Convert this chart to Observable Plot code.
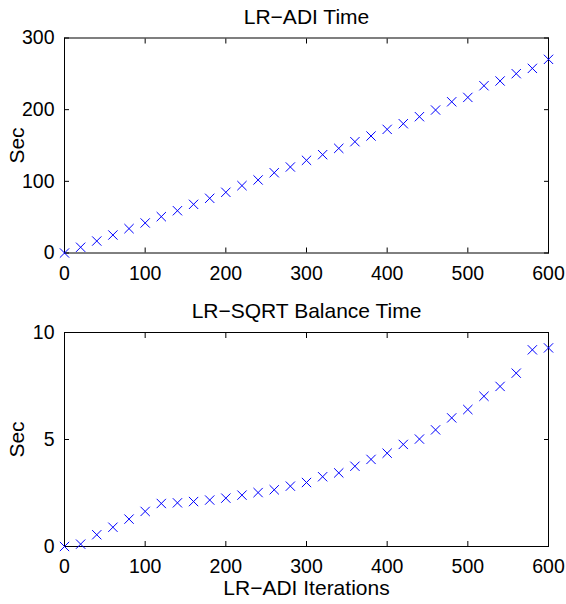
<!DOCTYPE html>
<html><head><meta charset="utf-8">
<script src="https://cdn.jsdelivr.net/npm/d3@7"></script>
<script src="https://cdn.jsdelivr.net/npm/@observablehq/plot@0.6"></script>
<style>
body{margin:0;background:#fff;}
#chart{position:relative;width:566px;height:604px;font-family:"Liberation Sans",Arial,sans-serif;}
#chart svg{position:absolute;left:0;}
</style></head><body><div id="chart"></div>
<script>
const iterations = [0,20,40,60,80,100,120,140,160,180,200,220,240,260,280,300,320,340,360,380,400,420,440,460,480,500,520,540,560,580,600];
const adiTime = [0,8,16.7,25.1,34,41.9,50.7,59,67.9,76.3,84.7,94,101.9,112,120,129.3,137.2,146,155.3,163.2,172.5,180.4,190.2,199.5,211,217.1,233.4,240,250.2,257.6,270.2];
const sqrtTime = [0,0.11,0.55,0.9,1.28,1.64,2.01,2.04,2.1,2.17,2.26,2.4,2.52,2.65,2.82,2.99,3.26,3.44,3.75,4.07,4.36,4.77,5.02,5.45,6.01,6.4,7.02,7.48,8.1,9.19,9.28];
const xTicks = [0,100,200,300,400,500,600];
const adiTicks = [0,100,200,300];
const sqrtTicks = [0,5,10];
const titles = ["LR\u2212ADI Time", "LR\u2212SQRT Balance Time"];
const yLabel = "Sec";
const xLabel = "LR\u2212ADI Iterations";

const blank = () => "";
const labelSize = 21;

function panel({title, values, yDomain, yTicks, height, marginTop, marginBottom, titleDy, withXLabel}) {
  const data = iterations.map((x, i) => ({x, y: values[i]}));
  const marks = [
    Plot.frame({stroke: "black", strokeWidth: 1}),
    Plot.axisX(xTicks, {anchor: "bottom", tickSize: 0, tickPadding: 13, label: null}),
    Plot.axisX(xTicks, {anchor: "bottom", tickSize: -5, tickFormat: blank, label: null}),
    Plot.axisX(xTicks, {anchor: "top", tickSize: -5, tickFormat: blank, label: null}),
    Plot.axisY(yTicks, {anchor: "left", tickSize: 0, tickPadding: 10, label: null}),
    Plot.axisY(yTicks, {anchor: "left", tickSize: -5, tickFormat: blank, label: null}),
    Plot.axisY(yTicks, {anchor: "right", tickSize: -5, tickFormat: blank, label: null}),
    Plot.dot(data, {x: "x", y: "y", symbol: "times", r: 4.3, stroke: "#0000ff", strokeWidth: 1}),
    Plot.text([title], {frameAnchor: "top", dy: titleDy, fontSize: labelSize, textAnchor: "middle", lineAnchor: "middle"}),
    Plot.text([yLabel], {frameAnchor: "left", dx: -47.3, rotate: -90, fontSize: labelSize, textAnchor: "middle", lineAnchor: "middle"})
  ];
  if (withXLabel) marks.push(Plot.text([xLabel], {frameAnchor: "bottom", dy: 41.5, fontSize: labelSize, textAnchor: "middle", lineAnchor: "middle"}));
  return Plot.plot({
    width: 566, height, marginLeft: 64, marginRight: 18, marginTop, marginBottom,
    style: {fontFamily: "'Liberation Sans', Arial, sans-serif", fontSize: "19.5px", color: "black", background: "white", overflow: "visible"},
    x: {domain: [0, 600]},
    y: {domain: yDomain},
    marks
  });
}

const chart = document.getElementById("chart");
const p1 = panel({title: titles[0], values: adiTime, yDomain: [0, 300], yTicks: adiTicks, height: 300, marginTop: 37.5, marginBottom: 47.5, titleDy: -20.5, withXLabel: false});
p1.style.top = "0px";
const p2 = panel({title: titles[1], values: sqrtTime, yDomain: [0, 10], yTicks: sqrtTicks, height: 304, marginTop: 32, marginBottom: 58, titleDy: -21, withXLabel: true});
p2.style.top = "300px";
chart.appendChild(p1);
chart.appendChild(p2);
</script>
</body></html>
